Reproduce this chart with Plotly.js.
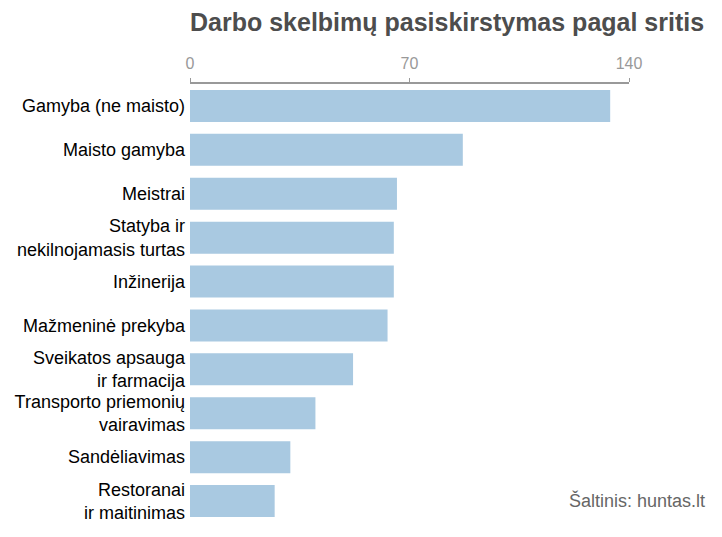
<!DOCTYPE html>
<html>
<head>
<meta charset="utf-8">
<script src="https://cdn.plot.ly/plotly-3.0.1.min.js"></script>
<style>html,body{margin:0;padding:0;background:#fff;}#chart{width:722px;height:537px;}</style>
</head>
<body>
<div id="chart"></div>
<script>
var categories = [
  "Gamyba (ne maisto)",
  "Maisto gamyba",
  "Meistrai",
  "Statyba ir<br>nekilnojamasis turtas",
  "Inžinerija",
  "Mažmeninė prekyba",
  "Sveikatos apsauga<br>ir farmacija",
  "Transporto priemonių<br>vairavimas",
  "Sandėliavimas",
  "Restoranai<br>ir maitinimas"
];
var values = [134, 87, 66, 65, 65, 63, 52, 40, 32, 27];
var tickValues = [0, 70, 140];
var tickLabels = ["0", "70", "140"];

var trace = {
  type: 'bar',
  orientation: 'h',
  x: values,
  y: categories,
  marker: {color: '#a9c9e1'},
  width: 0.73,
  hoverinfo: 'x+y'
};

var layout = {
  width: 722,
  height: 537,
  paper_bgcolor: '#ffffff',
  plot_bgcolor: '#ffffff',
  margin: {l: 190, r: 93, t: 84, b: 14},
  font: {family: 'Liberation Sans, Arial, sans-serif', color: '#000'},
  title: {
    text: '<b>Darbo skelbimų pasiskirstymas pagal sritis</b>',
    font: {size: 25, color: '#4d4d4d', family: 'Liberation Sans, Arial, sans-serif'},
    x: 0, xanchor: 'left', xref: 'paper', y: 0.958, yanchor: 'middle'
  },
  showlegend: false,
  xaxis: {
    side: 'top',
    range: [0, 140],
    tickvals: tickValues,
    ticktext: tickLabels,
    showgrid: false,
    zeroline: false,
    showline: true,
    linecolor: '#999999',
    linewidth: 2,
    ticks: 'outside',
    ticklen: 4,
    tickwidth: 1,
    tickcolor: '#999999',
    ticklabelstandoff: 3,
    tickfont: {size: 16, color: '#999999'},
    fixedrange: true
  },
  yaxis: {
    autorange: 'reversed',
    showgrid: false,
    zeroline: false,
    showline: false,
    ticks: '',
    ticklabelstandoff: 4,
    tickfont: {size: 18, color: '#000000'},
    fixedrange: true
  },
  annotations: [{
    text: 'Šaltinis: huntas.lt',
    xref: 'paper', yref: 'paper',
    x: 1.178, y: 0.052,
    xanchor: 'right', yanchor: 'middle',
    showarrow: false,
    font: {size: 18, color: '#666666'}
  }]
};

Plotly.newPlot('chart', [trace], layout, {displayModeBar: false, staticPlot: true});
</script>
</body>
</html>
